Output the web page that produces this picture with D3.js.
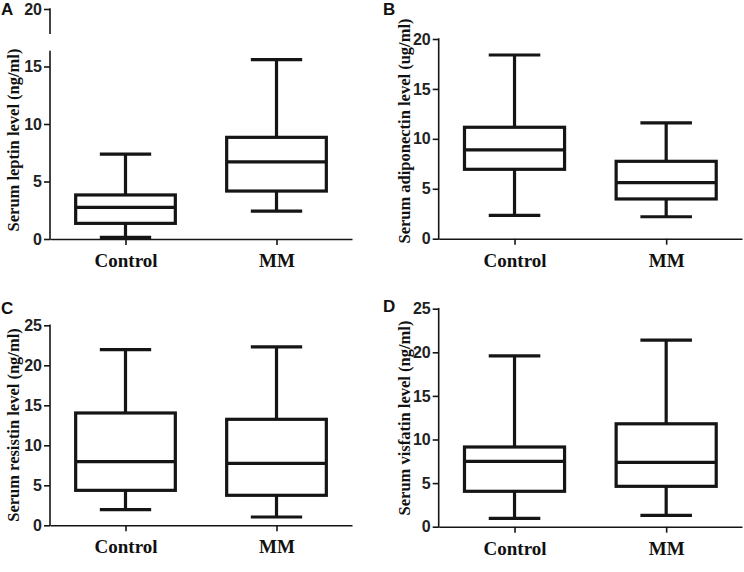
<!DOCTYPE html>
<html>
<head>
<meta charset="utf-8">
<script src="https://cdn.jsdelivr.net/npm/d3@7"></script>
<style>
  html, body { margin: 0; padding: 0; background: #fff; }
  svg { display: block; }
</style>
</head>
<body>
<svg id="chart" width="744" height="572"></svg>
<script>
// ---- Data ----
const categories = ["Control", "MM"];
const panelLetters = ["A", "B", "C", "D"];
const yTitles = [
  "Serum leptin level (ng/ml)",
  "Serum adiponectin level (ug/ml)",
  "Serum resistin level (ng/ml)",
  "Serum visfatin level (ng/ml)"
];
const yMax = [20, 20, 25, 25];
const yTicks = [[0, 5, 10, 15, 20], [0, 5, 10, 15, 20], [0, 5, 10, 15, 20, 25], [0, 5, 10, 15, 20, 25]];
// [min, Q1, median, Q3, max] for Control, MM
const leptin      = [[0.15, 1.36, 2.75, 3.83, 7.38], [2.43, 4.17, 6.70, 8.84, 15.6]];
const adiponectin = [[2.34, 6.95, 8.89, 11.16, 18.4], [2.20, 3.98, 5.61, 7.75, 11.6]];
const resistin    = [[1.95, 4.37, 7.95, 14.04, 21.95], [1.04, 3.75, 7.75, 13.25, 22.3]];
const visfatin    = [[0.96, 4.06, 7.50, 9.14, 19.6], [1.30, 4.63, 7.38, 11.8, 21.4]];
const seriesList = [leptin, adiponectin, resistin, visfatin];
const axisBreakA = [16.3, 17.9]; // gap in panel A's y axis

// ---- Layout ----
const layouts = [
  { x0: 50,    x1: 352, yBottom: 239,   yTop: 9,     letter: [1, 15],    titleX: 19,  titleY: 140 },
  { x0: 438.7, x1: 742, yBottom: 238.7, yTop: 39,    letter: [383, 15],  titleX: 410, titleY: 131 },
  { x0: 50,    x1: 352, yBottom: 525.3, yTop: 325.3, letter: [1, 314],   titleX: 19,  titleY: 425 },
  { x0: 438.7, x1: 742, yBottom: 526.7, yTop: 308.7, letter: [383, 312], titleX: 410, titleY: 418 }
];

const svg = d3.select("#chart");
const ink = "#151515";

seriesList.forEach((series, i) => {
  const L = layouts[i];
  const g = svg.append("g");
  const x = d3.scalePoint().domain(categories).range([L.x0, L.x1]).padding(0.5);
  const y = d3.scaleLinear().domain([0, yMax[i]]).range([L.yBottom, L.yTop]);
  const step = x.step();
  const boxW = step * 0.66;
  const capW = step * 0.34;

  // Y axis
  const ya = g.append("g").attr("transform", `translate(${L.x0},0)`)
    .call(d3.axisLeft(y).tickValues(yTicks[i]).tickSize(6).tickSizeOuter(0).tickPadding(2));
  ya.select(".domain").remove();
  ya.selectAll(".tick line").attr("stroke", ink).attr("stroke-width", 1.6);
  ya.selectAll(".tick text").attr("fill", "#222")
    .style("font-family", "'Liberation Sans Narrow', 'Arial Narrow', Arial, sans-serif")
    .style("font-weight", "bold").style("font-size", "16px");
  const segs = i === 0
    ? [[0, axisBreakA[0]], [axisBreakA[1], yMax[i]]]
    : [[0, yMax[i]]];
  segs.forEach(s => {
    g.append("line").attr("x1", L.x0).attr("x2", L.x0)
      .attr("y1", y(s[0]) + 0.8).attr("y2", y(s[1]) - 0.8)
      .attr("stroke", ink).attr("stroke-width", 1.6);
  });

  // X axis
  const xa = g.append("g").attr("transform", `translate(0,${L.yBottom})`)
    .call(d3.axisBottom(x).tickSize(6).tickSizeOuter(0));
  xa.select(".domain").attr("stroke", ink).attr("stroke-width", 1.6);
  xa.selectAll(".tick line").attr("stroke", ink).attr("stroke-width", 1.6);
  xa.selectAll(".tick text").attr("fill", "#111").attr("y", 28).attr("dy", 0)
    .style("font-family", "'Times New Roman', 'Liberation Serif', serif")
    .style("font-weight", "bold").style("font-size", "19px");

  // Boxes
  series.forEach((d, j) => {
    const cx = x(categories[j]);
    const [mn, q1, md, q3, mx] = d;
    const bg = g.append("g").attr("stroke", ink).attr("stroke-width", 3.2).attr("fill", "none");
    bg.append("line").attr("x1", cx).attr("x2", cx).attr("y1", y(q3)).attr("y2", y(mx));
    bg.append("line").attr("x1", cx).attr("x2", cx).attr("y1", y(q1)).attr("y2", y(mn));
    bg.append("line").attr("x1", cx - capW / 2).attr("x2", cx + capW / 2).attr("y1", y(mx)).attr("y2", y(mx));
    bg.append("line").attr("x1", cx - capW / 2).attr("x2", cx + capW / 2).attr("y1", y(mn)).attr("y2", y(mn));
    bg.append("rect").attr("x", cx - boxW / 2).attr("width", boxW)
      .attr("y", y(q3)).attr("height", y(q1) - y(q3)).attr("fill", "#fff");
    bg.append("line").attr("x1", cx - boxW / 2).attr("x2", cx + boxW / 2).attr("y1", y(md)).attr("y2", y(md));
  });

  // Y title
  g.append("text")
    .attr("transform", `translate(${L.titleX},${L.titleY}) rotate(-90)`)
    .attr("text-anchor", "middle").attr("fill", "#111")
    .style("font-family", "'Times New Roman', 'Liberation Serif', serif")
    .style("font-weight", "bold").style("font-size", "16.5px")
    .text(yTitles[i]);

  // Panel letter
  g.append("text").attr("x", L.letter[0]).attr("y", L.letter[1])
    .attr("fill", "#111")
    .style("font-family", "Arial, 'Liberation Sans', sans-serif")
    .style("font-weight", "bold").style("font-size", "17px")
    .text(panelLetters[i]);
});
</script>
</body>
</html>
